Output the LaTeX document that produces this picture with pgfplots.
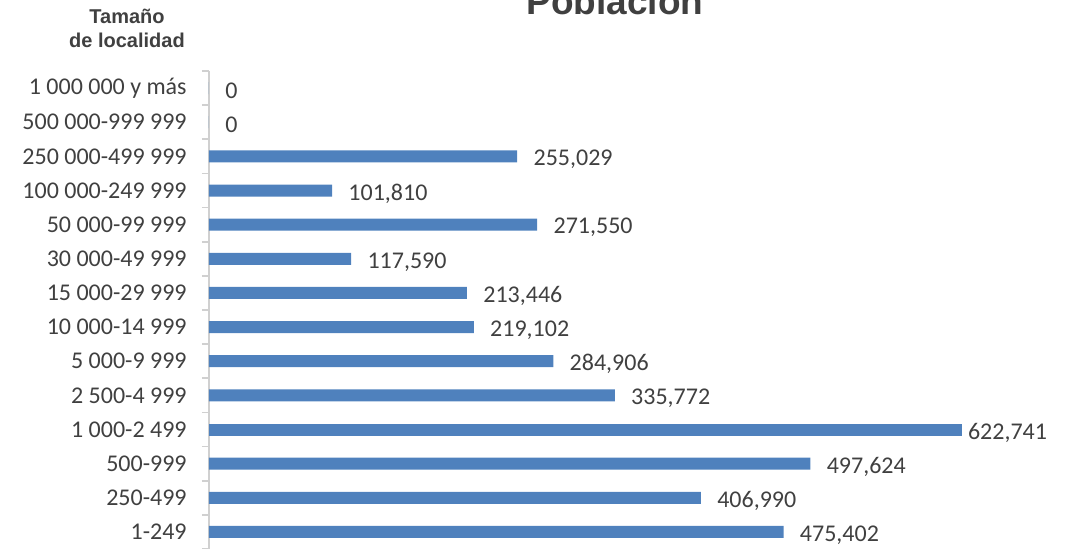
\documentclass[border=0pt]{standalone}
\usepackage{fontspec}
\setmainfont{Carlito}
\newfontfamily\arial{Liberation Sans}
\usepackage{pgfplots}
\pgfplotsset{compat=1.18}
\usepackage{pgfplotstable}

\definecolor{barblue}{RGB}{79,129,189}
\definecolor{axisgray}{RGB}{208,208,208}
\definecolor{txt}{RGB}{64,64,64}

% idx 0 = 1-249 ... idx 13 = 1 000 000 y mas
\pgfplotstableread{
idx pob
0  475402
1  406990
2  497624
4  335772
5  284906
6  219102
7  213446
8  117590
9  271550
10 101810
11 255029
12 0
13 0
}\poblacion
\pgfplotstableread{
idx pob
3  622741
}\maximo

\begin{document}
\begin{tikzpicture}
\begin{axis}[
    at={(0,0)}, anchor=south west,
    scale only axis,
    width=423pt, height=239pt,
    xmin=0, xmax=700000,
    ymin=-0.5, ymax=13.5,
    enlargelimits=false,
    clip=false,
    axis x line=none,
    axis y line=left,
    y axis line style={draw=axisgray, line width=0.8pt, -},
    ytick={0,...,13},
    yticklabels={1-249, 250-499, 500-999, 1 000-2 499, 2 500-4 999,
      5 000-9 999, 10 000-14 999, 15 000-29 999, 30 000-49 999,
      50 000-99 999, 100 000-249 999, 250 000-499 999,
      500 000-999 999, 1 000 000 y más},
    major tick length=0pt,
    extra y ticks={-0.5,0.5,...,13.5},
    extra y tick labels={},
    extra y tick style={major tick length=3.5pt, tick align=outside,
      tick style={draw=axisgray, line width=0.8pt}},
    yticklabel style={inner sep=0pt, xshift=-11pt, text=txt,
      font=\fontsize{12}{14}\selectfont},
    /pgf/number format/assume math mode=true,
    /pgf/number format/.cd, fixed, precision=0, 1000 sep={,},
    /pgfplots/.cd,
    xbar, bar width=6pt, bar shift=0pt,
    nodes near coords,
    every node near coord/.append style={anchor=west, inner sep=0pt,
      yshift=-1.5pt, text=txt, font=\fontsize{12}{14}\selectfont},
]
\addplot[fill=barblue, draw=none, every node near coord/.append style={xshift=8pt}]
  table[x=pob, y=idx] {\poblacion};
\addplot[fill=barblue, draw=none, every node near coord/.append style={xshift=3pt}]
  table[x=pob, y=idx] {\maximo};
\end{axis}
\node[anchor=base, text=txt, font=\arial\bfseries\fontsize{18.5}{22}\selectfont]
  at (203pt,267.5pt) {Población};
\node[anchor=base, text=txt, font=\arial\bfseries\fontsize{10}{12}\selectfont]
  at (-41pt,263pt) {Tamaño};
\node[anchor=base, text=txt, font=\arial\bfseries\fontsize{10}{12}\selectfont]
  at (-41pt,251pt) {de localidad};
\pgfresetboundingbox
\useasboundingbox (-104.5pt,0.5pt) rectangle (432.5pt,274.5pt);
\end{tikzpicture}
\end{document}
